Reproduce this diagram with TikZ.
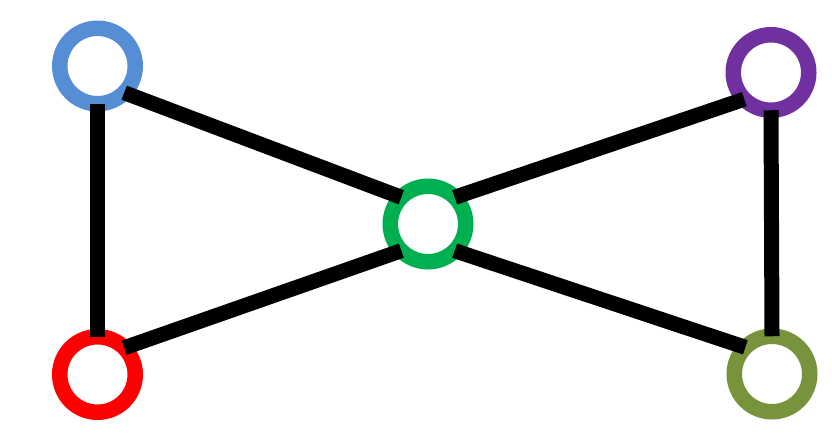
\documentclass[tikz,border=0pt]{standalone}
\definecolor{cblue}{HTML}{558ED5}
\definecolor{cred}{HTML}{FF0000}
\definecolor{cgreen}{HTML}{00B050}
\definecolor{cpurple}{HTML}{7030A0}
\definecolor{colive}{HTML}{77933C}
\begin{document}
\begin{tikzpicture}[x=1pt,y=-1pt,
  ring/.style={circle,draw=#1,line width=15.5pt,minimum size=75.5pt,inner sep=0pt,outer sep=0pt,fill=white},
  edge/.style={draw=black,line width=15pt,line cap=butt}]
\useasboundingbox (0,0) rectangle (832,439);
\node[ring=cblue] (b) at (97.5,66) {};
\node[ring=cred] (r) at (97.5,374.5) {};
\node[ring=cgreen] (g) at (428,224) {};
\node[ring=cpurple] (p) at (771,72.5) {};
\node[ring=colive] (o) at (772,374) {};
\draw[edge] (b.south) -- (r.north);
\draw[edge] (p.south) -- (o.north);
\draw[edge] (b.south east) -- (g.north west);
\draw[edge] (g.south west) -- (r.north east);
\draw[edge] (g.north east) -- (p.south west);
\draw[edge] (g.south east) -- (o.north west);
\end{tikzpicture}
\end{document}
